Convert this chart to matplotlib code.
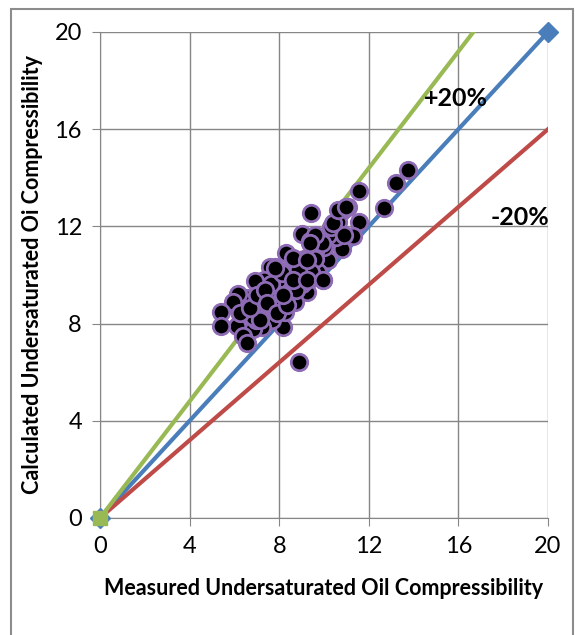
import numpy as np
import matplotlib.pyplot as plt
from matplotlib.patches import Rectangle

# measured vs calculated undersaturated oil compressibility
measured = [13.77, 13.23, 12.7, 11.58, 11.56, 11.28, 11.05, 10.8, 10.64, 10.79,
            10.52, 10.16, 10.19, 9.94, 9.72, 10.02, 9.42, 9.0, 9.36, 9.6,
            9.12, 8.93, 9.2, 9.25, 8.88, 8.3, 8.2, 8.62, 8.69, 8.2,
            8.17, 8.26, 7.8, 7.57, 7.3, 6.9, 7.33, 7.7, 7.2, 7.4,
            7.7, 7.22, 6.82, 6.64, 6.56, 6.23, 6.15, 6.1, 5.95, 5.42,
            5.42, 6.4, 6.55, 6.97, 7.95, 8.44, 8.77, 9.02, 8.77, 7.95,
            6.97, 7.62, 9.92, 10.33, 10.9, 9.59, 9.6, 9.43, 10.42, 10.64,
            9.38, 8.85, 8.63, 8.11, 7.81, 6.85, 7.14, 6.25, 6.7, 7.0,
            7.37, 7.44, 7.89, 8.33, 8.18, 8.63, 9.23, 9.23, 9.97, 11.0]
calculated = [14.33, 13.8, 12.75, 13.45, 12.17, 11.6, 12.8, 12.65, 12.2, 11.08,
              11.55, 11.64, 10.62, 9.81, 10.14, 11.15, 12.55, 11.7, 11.39, 11.0,
              10.64, 10.4, 9.73, 9.31, 6.42, 10.9, 10.14, 9.73, 8.9, 9.14,
              7.88, 8.48, 10.31, 10.32, 9.81, 9.77, 9.34, 8.98, 8.9, 8.48,
              8.15, 7.86, 7.78, 8.56, 9.06, 8.4, 9.23, 7.9, 8.88, 8.49,
              7.9, 7.47, 7.2, 8.15, 9.31, 9.64, 10.14, 9.64, 9.39, 9.81,
              8.81, 9.64, 11.3, 11.97, 11.64, 11.64, 10.64, 10.14, 12.13, 12.67,
              11.3, 10.21, 10.69, 10.07, 10.27, 8.28, 8.15, 8.42, 8.63, 9.18,
              9.38, 8.83, 8.42, 8.77, 9.18, 9.79, 9.79, 10.62, 9.79, 12.81]

unity_x = [0, 20]
unity_y = [0, 20]
plus_x = [0, 20 / 1.2]
plus_y = [0, 20]
minus_x = [0, 20]
minus_y = [0, 16]

ticks = [0, 4, 8, 12, 16, 20]

blue = '#4a7ebb'
red = '#be4b48'
green = '#98b954'
purple = '#8d6bb5'

plt.rcParams['font.family'] = ['Lato', 'DejaVu Sans']

fig = plt.figure(figsize=(5.75, 6.35), dpi=100)
ax = fig.add_axes([100 / 575, 1 - 518 / 635, 448 / 575, 486 / 635])

# outer chart frame
fig.patches.append(Rectangle((11 / 575, -0.05), 562 / 575, 1 - 9 / 635 + 0.05,
                             transform=fig.transFigure, fill=False,
                             edgecolor='#8c8c8c', linewidth=1.5))

ax.plot(unity_x, unity_y, color=blue, lw=3, marker='D', ms=10, clip_on=False, zorder=3)
ax.plot(minus_x, minus_y, color=red, lw=3, zorder=3)
ax.plot(plus_x, plus_y, color=green, lw=3, zorder=3)
ax.plot([0], [0], marker='s', color=green, ms=10, clip_on=False, zorder=4)

ax.scatter(measured, calculated, s=140, c='black', edgecolors=purple,
           linewidths=2, zorder=5)

ax.text(15.9, 17.25, '+20%', fontsize=18, fontweight='bold', ha='center', va='center', zorder=6)
ax.text(18.75, 12.35, '-20%', fontsize=18, fontweight='bold', ha='center', va='center', zorder=6)

ax.set_xlim(0, 20)
ax.set_ylim(0, 20)
ax.set_xticks(ticks)
ax.set_yticks(ticks)
ax.tick_params(direction='out', length=6, color='#868686', labelsize=17, pad=7)
ax.grid(True, color='#868686', linewidth=1)
ax.set_axisbelow(True)
for side in ['top', 'right']:
    ax.spines[side].set_visible(False)
for side in ['left', 'bottom']:
    ax.spines[side].set_color('#868686')

ax.set_xlabel('Measured Undersaturated Oil Compressibility', fontsize=15.5,
              fontweight='bold', labelpad=15)
ax.set_ylabel('Calculated Undersaturated Oi Compressibility', fontsize=15.5,
              fontweight='bold', labelpad=8)

fig.savefig('out.png', dpi=100)
